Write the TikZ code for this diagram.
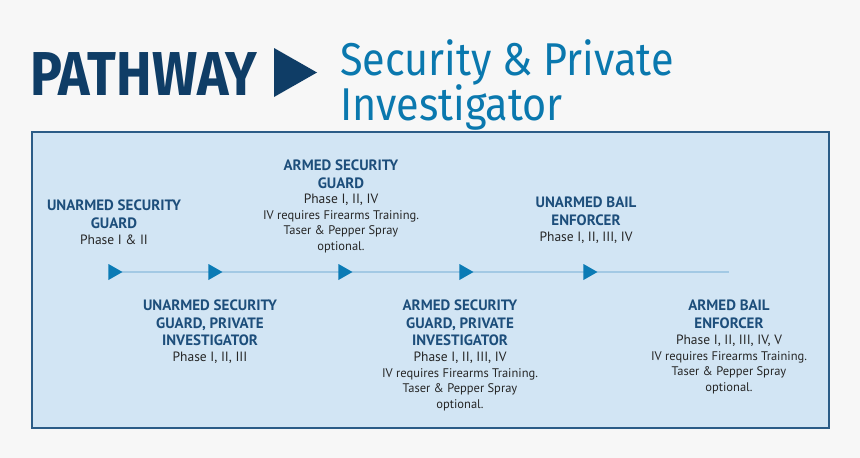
\documentclass[tikz,border=0pt]{standalone}
\usepackage{fontspec}
\usepackage{graphicx}
\setmainfont{PT Sans}
\newfontfamily\titlefont{Fira Sans}
\usetikzlibrary{positioning, shapes.geometric}

\definecolor{pagegray}{HTML}{F7F7F7}
\definecolor{navy}{HTML}{0F3D66}
\definecolor{titleblue}{HTML}{0A78AE}
\definecolor{headblue}{HTML}{1D4E7B}
\definecolor{boxfill}{HTML}{D2E5F4}
\definecolor{boxline}{HTML}{2B5C87}
\definecolor{markblue}{HTML}{0B7BB5}
\definecolor{lineblue}{HTML}{A3C9E4}

\begin{document}
\begin{tikzpicture}[x=1pt, y=-1pt,
  head/.style={font=\fontsize{15}{17.5}\selectfont\bfseries, text=headblue, align=center, inner sep=0pt, anchor=north},
  phase/.style={font=\fontsize{13.5}{17}\selectfont, text=black!85, align=center, inner sep=0pt, anchor=north},
  note/.style={font=\fontsize{12.5}{15.5}\selectfont, text=black!85, align=center, inner sep=0pt, anchor=north},
  marker/.style={isosceles triangle, isosceles triangle stretches, fill=markblue, inner sep=0pt,
    minimum width=16pt, minimum height=14pt, anchor=apex}]
  % page and panel
  \fill [pagegray] (0,0) rectangle (860,458);
  \draw [boxline, line width=2pt, fill=boxfill] (32,132) rectangle (829,428);

  % title
  \node (pathway) at (30,95) [anchor=base west, inner sep=0pt, text=navy,
    font=\titlefont\fontsize{62}{62}\selectfont\bfseries] {\scalebox{0.86}[1]{PATHWAY}};
  \fill [navy] (274,48) -- (317,72.5) -- (274,97) -- cycle;
  \node (title) at (340,75) [anchor=base west, inner sep=0pt, text=titleblue,
    font=\titlefont\fontsize{46}{45}\selectfont] {\scalebox{0.9}[1]{Security \& Private}};
  \node (title2) at (340,120) [anchor=base west, inner sep=0pt, text=titleblue,
    font=\titlefont\fontsize{46}{45}\selectfont] {\scalebox{0.9}[1]{Investigator}};

  % timeline
  \coordinate (start) at (110,272);
  \coordinate (end) at (729,272);
  \draw [lineblue, line width=2pt] (start) -- (end);
  \node (m1) at (123,272) [marker] {};
  \node (m2) at (223,272) [marker] {};
  \node (m3) at (353,272) [marker] {};
  \node (m4) at (474,272) [marker] {};
  \node (m5) at (598,272) [marker] {};

  % upper labels
  \node (h1) at (114,200) [head] {UNARMED SECURITY\\GUARD};
  \node (p1) at (114,235) [phase] {Phase I \& II};
  \node (h3) at (341,160) [head] {ARMED SECURITY\\GUARD};
  \node (p3) at (341,194) [phase] {Phase I, II, IV};
  \node (n3) at (341,210) [note] {IV requires Firearms Training.\\Taser \& Pepper Spray\\optional.};
  \node (h5) at (586,197) [head] {UNARMED BAIL\\ENFORCER};
  \node (p5) at (586,232) [phase] {Phase I, II, III, IV};

  % lower labels
  \node (h2) at (210,300) [head] {UNARMED SECURITY\\GUARD, PRIVATE\\INVESTIGATOR};
  \node (p2) at (210,352) [phase] {Phase I, II, III};
  \node (h4) at (460,300) [head] {ARMED SECURITY\\GUARD, PRIVATE\\INVESTIGATOR};
  \node (p4) at (460,352) [phase] {Phase I, II, III, IV};
  \node (n4) at (460,368) [note] {IV requires Firearms Training.\\Taser \& Pepper Spray\\optional.};
  \node (h6) at (729,300) [head] {ARMED BAIL\\ENFORCER};
  \node (p6) at (729,335) [phase] {Phase I, II, III, IV, V};
  \node (n6) at (729,351) [note] {IV requires Firearms Training.\\Taser \& Pepper Spray\\optional.};
\end{tikzpicture}
\end{document}
